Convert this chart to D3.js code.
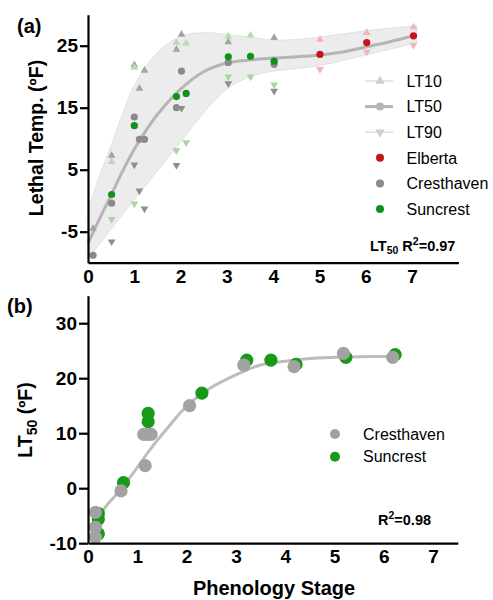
<!DOCTYPE html>
<html><head><meta charset="utf-8">
<script src="https://cdn.jsdelivr.net/npm/d3@7/dist/d3.min.js"></script>
<style>
body{margin:0;background:#fff;}
svg text{font-family:"Liberation Sans",Arial,Helvetica,sans-serif;}
</style></head>
<body><svg id="c" width="493" height="600"></svg>
<script>
// ---------- Panel (a) data ----------
const aXTicks = [0,1,2,3,4,5,6,7];
const aYTicks = [-5,5,15,25];
const cresStage = [0.11,0.51,1.0,1.11,1.22,1.91,2.02,3.03,4.02];
const cresLT50  = [-8.8,-0.4,13.5,9.9,9.9,15.0,20.9,22.3,22.0];
const cresLT10  = [-4.5,7.3,21.9,18.1,21.0,24.4,26.8,25.6,26.3];
const cresLT90  = [null,-6.6,5.8,1.6,-1.3,5.7,14.9,18.9,17.7];
const sunStage  = [0.51,1.0,1.91,2.12,3.03,3.51,4.02];
const sunLT50   = [1.0,12.1,16.8,17.3,23.2,23.3,22.5];
const sunLT10   = [6.3,21.5,25.5,25.4,26.5,26.7,null];
const sunLT90   = [-3.0,-0.5,8.1,9.4,20.0,20.0,18.7];
const elbStage  = [5.01,6.02,7.03];
const elbLT50   = [23.6,25.5,26.6];
const elbLT10   = [26.0,27.1,28.0];
const elbLT90   = [21.2,24.0,25.1];
const bandStage = [0,0.25,0.5,0.75,1,1.5,2,2.5,3,3.5,4,4.5,5,5.5,6,6.5,7.1];
const bandUpper = [-1.5,4,8.9,14,18.6,23.9,26.5,27.1,26.8,26.4,25.9,26.0,26.4,26.9,27.4,27.8,28.2];
const bandLower = [-9.3,-7,-4.6,-2.2,0.2,4.8,9.5,14.2,18.0,20.0,20.9,21.3,21.8,22.6,23.5,24.4,25.4];
const fitAStage = [0,0.25,0.5,0.75,1,1.25,1.5,2,2.5,3,3.5,4,4.5,5,5.5,6,6.5,7.03];
const fitALT50  = [-6.9,-2.9,0.9,4.8,8.3,11.3,13.9,18,20.8,22.2,22.7,23.0,23.2,23.5,24,24.8,25.6,26.6];

// ---------- Panel (b) data ----------
const bXTicks = [0,1,2,3,4,5,6,7];
const bYTicks = [-10,0,10,20,30];
const bCresStage = [0.15,0.15,0.15,0.67,1.16,1.13,1.2,1.28,2.06,3.16,4.18,5.18,6.18];
const bCresLT50  = [-4.4,-7.1,-8.9,-0.5,4.1,9.8,9.8,9.8,15.0,22.4,22.1,24.5,23.8];
const bSunStage  = [0.21,0.21,0.21,0.72,1.22,1.22,2.31,3.22,3.71,4.22,5.23,6.23];
const bSunLT50   = [-4.6,-5.6,-8.3,1.0,13.6,12.1,17.3,23.3,23.3,22.5,23.8,24.3];
const fitBStage  = [0.2,0.4,0.65,1,1.3,1.6,2,2.5,3,3.5,4,4.5,5,5.5,6.2];
const fitBLT50   = [-5.3,-2.9,-0.4,3.8,7.5,10.8,14.9,18.3,20.6,22.4,23.1,23.6,23.8,23.9,23.95];

const svg = d3.select("#c");
const font = '"Liberation Sans",Arial,Helvetica,sans-serif';
const smooth = d3.curveCatmullRom.alpha(0.5);
const fmt = d => String(d);

// ---------- Panel (a) ----------
const xa = d3.scaleLinear().domain([0,8]).range([88,458.4]);
const ya = d3.scaleLinear().domain([-10,30]).range([262.7,14.7]);
const ga = svg.append("g");

const band = bandStage.map((s,i)=>({s,u:bandUpper[i],l:bandLower[i]}));
ga.append("path").datum(band)
  .attr("d", d3.area().x(d=>xa(d.s)).y0(d=>ya(d.l)).y1(d=>ya(d.u)).curve(smooth))
  .attr("fill","#ececec").attr("stroke","#e2e2e2").attr("stroke-width",1);

const fitA = fitAStage.map((s,i)=>({s,v:fitALT50[i]}));
ga.append("path").datum(fitA)
  .attr("d", d3.line().x(d=>xa(d.s)).y(d=>ya(d.v)).curve(smooth))
  .attr("fill","none").attr("stroke","#b5b5b5").attr("stroke-width",3);

const triUp = d3.symbol().type(d3.symbolTriangle).size(26);
function drawTri(g, xs, vals, color, up, sx, sy){
  const pts = xs.map((s,i)=>({s,v:vals[i]})).filter(d=>d.v!==null);
  g.selectAll(null).data(pts).enter().append("path")
    .attr("d", triUp())
    .attr("transform", d=>`translate(${sx(d.s)},${sy(d.v)}) rotate(${up?0:180})`)
    .attr("fill", color);
}
function drawDots(g, xs, vals, color, r, sx, sy){
  const pts = xs.map((s,i)=>({s,v:vals[i]}));
  g.selectAll(null).data(pts).enter().append("circle")
    .attr("cx", d=>sx(d.s)).attr("cy", d=>sy(d.v)).attr("r", r).attr("fill", color);
}
drawTri(ga, cresStage, cresLT10, "#a3a3a8", true, xa, ya);
drawTri(ga, cresStage, cresLT90, "#8e8e8e", false, xa, ya);
drawTri(ga, sunStage, sunLT10, "#b6dcae", true, xa, ya);
drawTri(ga, sunStage, sunLT90, "#a9d6a0", false, xa, ya);
drawTri(ga, elbStage, elbLT10, "#f2b4b8", true, xa, ya);
drawTri(ga, elbStage, elbLT90, "#f2b4b8", false, xa, ya);
drawDots(ga, cresStage, cresLT50, "#8a8a8a", 3.6, xa, ya);
drawDots(ga, sunStage, sunLT50, "#10921a", 3.6, xa, ya);
drawDots(ga, elbStage, elbLT50, "#c4141c", 3.6, xa, ya);

// axes (a)
const axA_y = ga.append("g").attr("transform","translate(88,0)")
  .call(d3.axisLeft(ya).tickValues(aYTicks).tickFormat(fmt).tickSize(8).tickPadding(2).tickSizeOuter(0));
const axA_x = ga.append("g").attr("transform",`translate(0,${ya(-10)})`)
  .call(d3.axisBottom(xa).tickValues(aXTicks).tickFormat(fmt).tickSize(0).tickPadding(7).tickSizeOuter(0));
[axA_y, axA_x].forEach(a=>{
  a.select(".domain").attr("stroke","#000").attr("stroke-width",2.2);
  a.selectAll(".tick line").attr("stroke","#000").attr("stroke-width",2.2);
  a.selectAll(".tick text").attr("font-family",font).attr("font-size",19).attr("font-weight","bold").attr("fill","#000");
});

// legend (a)
const legA = [
  {t:"LT10", type:"l10"},{t:"LT50", type:"l50"},{t:"LT90", type:"l90"},
  {t:"Elberta", c:"#c4141c"},{t:"Cresthaven", c:"#8a8a8a"},{t:"Suncrest", c:"#10921a"}
];
legA.forEach((d,i)=>{
  const y = 81 + i*25.6;
  const g = ga.append("g").attr("transform",`translate(380,${y})`);
  if(d.type){
    const lc = d.type==="l50" ? "#b5b5b5" : "#dedede";
    g.append("line").attr("x1",-15).attr("x2",13).attr("stroke",lc).attr("stroke-width", d.type==="l50"?3:1.5);
    if(d.type==="l50") g.append("circle").attr("r",4).attr("fill","#b5b5b5");
    else g.append("path").attr("d", d3.symbol().type(d3.symbolTriangle).size(40)())
      .attr("transform", d.type==="l10"?"":"rotate(180)").attr("fill","#cfcfcf");
  } else {
    g.append("circle").attr("r",4).attr("fill",d.c);
  }
  ga.append("text").attr("x",406.5).attr("y",y).attr("dy","0.36em")
    .attr("font-family",font).attr("font-size",16).attr("fill","#000").text(d.t);
});

const r2a = ga.append("text").attr("x",370).attr("y",251).attr("font-family",font)
  .attr("font-size",14.5).attr("font-weight","bold").attr("fill","#000");
r2a.append("tspan").text("LT");
r2a.append("tspan").attr("font-size",10.5).attr("dy",3).text("50");
r2a.append("tspan").attr("dy",-3).text(" R");
r2a.append("tspan").attr("font-size",10.5).attr("dy",-6).text("2");
r2a.append("tspan").attr("dy",6).text("=0.97");

ga.append("text").attr("x",17).attr("y",33).attr("font-family",font)
  .attr("font-size",20).attr("font-weight","bold").text("(a)");

ga.append("text").attr("transform","translate(43,138) rotate(-90)").attr("text-anchor","middle")
  .attr("font-family",font).attr("font-size",19.5).attr("font-weight","bold").text("Lethal Temp. (ºF)");

// ---------- Panel (b) ----------
const xb = d3.scaleLinear().domain([0,7.5]).range([88,457.8]);
const yb = d3.scaleLinear().domain([-10,35]).range([543.2,295.7]);
const gb = svg.append("g");

const fitB = fitBStage.map((s,i)=>({s,v:fitBLT50[i]}));
gb.append("path").datum(fitB)
  .attr("d", d3.line().x(d=>xb(d.s)).y(d=>yb(d.v)).curve(smooth))
  .attr("fill","none").attr("stroke","#bdbdbd").attr("stroke-width",3);

drawDots(gb, bSunStage, bSunLT50, "#179a17", 6.6, xb, yb);
drawDots(gb, bCresStage, bCresLT50, "#a2a2a2", 6.6, xb, yb);

const axB_y = gb.append("g").attr("transform","translate(88,0)")
  .call(d3.axisLeft(yb).tickValues(bYTicks).tickFormat(fmt).tickSize(9).tickPadding(2).tickSizeOuter(0));
const axB_x = gb.append("g").attr("transform",`translate(0,${yb(-10)})`)
  .call(d3.axisBottom(xb).tickValues(bXTicks).tickFormat(fmt).tickSize(0).tickPadding(6).tickSizeOuter(0));
[axB_y, axB_x].forEach(a=>{
  a.select(".domain").attr("stroke","#000").attr("stroke-width",2.2);
  a.selectAll(".tick line").attr("stroke","#000").attr("stroke-width",2.2);
  a.selectAll(".tick text").attr("font-family",font).attr("font-size",19).attr("font-weight","bold").attr("fill","#000");
});

const legB = [{t:"Cresthaven", c:"#a2a2a2"},{t:"Suncrest", c:"#179a17"}];
legB.forEach((d,i)=>{
  const y = 434 + i*22.7;
  gb.append("circle").attr("cx",335).attr("cy",y).attr("r",5).attr("fill",d.c);
  gb.append("text").attr("x",363).attr("y",y).attr("dy","0.36em")
    .attr("font-family",font).attr("font-size",16).attr("fill","#000").text(d.t);
});

const r2b = gb.append("text").attr("x",378).attr("y",525).attr("font-family",font)
  .attr("font-size",14.5).attr("font-weight","bold").attr("fill","#000");
r2b.append("tspan").text("R");
r2b.append("tspan").attr("font-size",10.5).attr("dy",-6).text("2");
r2b.append("tspan").attr("dy",6).text("=0.98");

gb.append("text").attr("x",7).attr("y",313).attr("font-family",font)
  .attr("font-size",20).attr("font-weight","bold").text("(b)");

const tB = gb.append("text").attr("transform","translate(32,420) rotate(-90)").attr("text-anchor","middle")
  .attr("font-family",font).attr("font-size",19.5).attr("font-weight","bold");
tB.append("tspan").text("LT");
tB.append("tspan").attr("font-size",14).attr("dy",5).text("50");
tB.append("tspan").attr("dy",-5).text(" (ºF)");

gb.append("text").attr("x",274).attr("y",595).attr("text-anchor","middle")
  .attr("font-family",font).attr("font-size",20).attr("font-weight","bold").text("Phenology Stage");
</script></body></html>
